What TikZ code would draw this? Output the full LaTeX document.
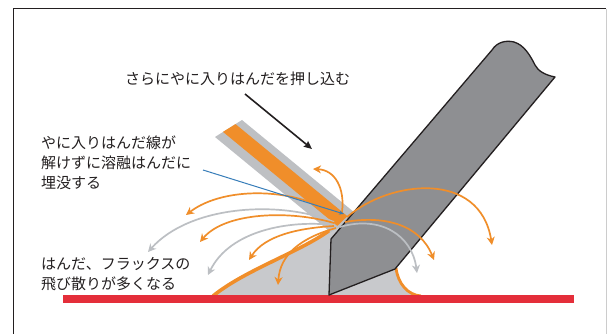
\documentclass[tikz,border=0pt]{standalone}
\usepackage{fontspec}
\setmainfont{Noto Sans CJK JP}
\usetikzlibrary{arrows.meta}
\definecolor{ironfill}{RGB}{142,143,146}
\definecolor{solder}{RGB}{200,201,204}
\definecolor{wiregray}{RGB}{190,192,195}
\definecolor{flux}{RGB}{240,142,42}
\definecolor{spraygray}{RGB}{188,191,195}
\definecolor{pcbred}{RGB}{228,46,58}
\definecolor{callout}{RGB}{55,125,185}
\definecolor{ink}{RGB}{35,31,32}
\begin{document}
\begin{tikzpicture}[x=1pt,y=-1pt,
  lbl/.style={font=\fontsize{15}{20}\selectfont, text=ink, inner sep=0pt, align=left},
  spray/.style={draw=flux, line width=1.7pt, -{Stealth[length=8pt,width=8pt,inset=2.5pt]}},
  graysray/.style={draw=spraygray, line width=1.7pt, -{Stealth[length=8pt,width=8pt,inset=2.5pt]}},
  iron/.style={fill=ironfill, draw=ink, line width=1.3pt, line join=round}]
\useasboundingbox (0,0) rectangle (608,334);
\fill[white] (0,0) rectangle (608,334);
% frame
\draw[ink, line width=1.8pt] (13.5,334) -- (13.5,8.5) -- (606,8.5);
\draw[black!20, line width=1pt] (606.5,9) -- (606.5,334);

% solder fillet under the tip
\fill[solder] (213,295) .. controls (245,270) and (300,252) .. (330,230) -- (352,214) -- (398,262) -- (395,269)
  .. controls (398,284) and (408,295) .. (420,295) -- cycle;
\draw[flux, line width=3.6pt] (213,296) .. controls (245,270) and (300,252) .. (330,230);
\draw[flux, line width=2.8pt] (396,268) .. controls (398,284) and (408,295) .. (421,296);

% cored solder wire
\fill[wiregray] (215,137) -- (242,120) -- (357.8,215.3) -- (330.8,232.3) -- cycle;
\fill[flux] (223,131.9) -- (235.5,124.1) -- (347.4,216.2) -- (337.3,225.9) -- cycle;

% board
\fill[pcbred] (63,295) rectangle (574,302.5);

% soldering iron
\draw[iron] (329,295) -- (331,239) -- (492,50) .. controls (497,42) and (506,40) .. (514,42)
  .. controls (524,45) and (530,55) .. (535,65) .. controls (538,71) and (545,75) .. (555,77)
  -- (395,269) -- cycle;

% spray end points
\coordinate (s1) at (342,212); \coordinate (e1) at (313,169);
\coordinate (s2) at (336,216); \coordinate (e2) at (186,215);
\coordinate (s3) at (334,222); \coordinate (e3) at (148,252);
\coordinate (s4) at (334,223); \coordinate (e4) at (200,242);
\coordinate (s5) at (333,225); \coordinate (e5) at (208,275);
\coordinate (s6) at (334,226); \coordinate (e6) at (249,260);
\coordinate (s7) at (336,228); \coordinate (e7) at (278,285);
\coordinate (s8) at (347,217); \coordinate (e8) at (492,245);
\coordinate (s9) at (345,222); \coordinate (e9) at (434,260);
\coordinate (s10) at (340,227); \coordinate (e10) at (417,273);

% spatter of solder and flux
\draw[graysray] (s3) .. controls (280,200) and (190,205) .. (e3);
\draw[graysray] (s5) .. controls (290,220) and (230,230) .. (e5);
\draw[spray] (s1) .. controls (345,188) and (335,170) .. (e1);
\draw[spray] (s2) .. controls (300,188) and (225,185) .. (e2);
\draw[spray] (s4) .. controls (290,210) and (225,212) .. (e4);
\draw[spray] (s6) .. controls (300,228) and (265,235) .. (e6);
\draw[spray] (s7) .. controls (300,238) and (280,255) .. (e7);
\draw[graysray] (s10) .. controls (380,215) and (412,235) .. (e10);
\draw[spray] (s8) .. controls (390,180) and (480,170) .. (e8);
\draw[spray] (s9) .. controls (385,215) and (420,225) .. (e9);

% labels (base anchor of a multi-line node sits on its last line)
\node[lbl, anchor=base west] (push) at (125,85) {さらにやに入りはんだを押し込む};
\node[lbl, anchor=base west] (buried) at (41,189) {やに入りはんだ線が\\解けずに溶融はんだに\\埋没する};
\node[lbl, anchor=base west] (spatter) at (41,289) {はんだ、フラックスの\\飛び散りが多くなる};

% pointers
\coordinate (pushfrom) at (245,94); \coordinate (pushto) at (312,149);
\draw[ink, line width=1.6pt, -{Stealth[length=8pt,width=7pt,inset=1pt]}] (pushfrom) -- (pushto);
\coordinate (calloutfrom) at (203,170); \coordinate (calloutto) at (344,214);
\draw[callout, line width=1pt, -{Stealth[length=5pt,width=4pt]}] (calloutfrom) -- (calloutto);
\end{tikzpicture}
\end{document}
